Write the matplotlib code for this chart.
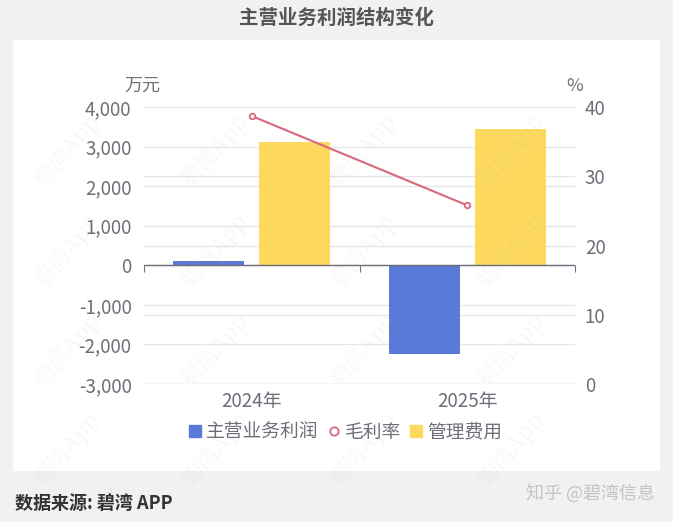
import matplotlib
matplotlib.use("Agg")
import matplotlib.pyplot as plt
from matplotlib.lines import Line2D
from matplotlib.patches import Rectangle
from matplotlib.transforms import blended_transform_factory
import numpy as np

plt.rcParams['font.family'] = ['Noto Sans CJK SC', 'DejaVu Sans']

# data
years = ["2024年", "2025年"]
profit = [100, -2250]          # 主营业务利润, 万元
admin_cost = [3110, 3450]      # 管理费用, 万元
gross_margin = [38.7, 25.8]    # 毛利率, %
left_ticks = [-3000, -2000, -1000, 0, 1000, 2000, 3000, 4000]
right_ticks = [0, 10, 20, 30, 40]

blue = "#5b79d6"
yellow = "#fdd95f"
red = "#d9677a"
grid_c = "#e3e6ee"
txt_c = "#6e7079"

fig = plt.figure(figsize=(6.73, 5.22), dpi=100)
fig.patch.set_facecolor("#f1f1f1")
fig.patches.append(Rectangle((13 / 673, 1 - 471 / 522), 647 / 673, 431 / 522,
                             transform=fig.transFigure, facecolor="white",
                             edgecolor="none", zorder=-5))

ax = fig.add_axes([144 / 673, 1 - 384 / 522, 431 / 673, 277 / 522])
ax.set_facecolor("none")
x = np.arange(len(years))
w = 0.33
ax.bar(x - 0.2, profit, w, color=blue, zorder=3)
ax.bar(x + 0.2, admin_cost, w, color=yellow, zorder=3)
ax.set_xlim(-0.5, len(years) - 0.5)
ax.set_ylim(left_ticks[0], left_ticks[-1])
ax.set_yticks(left_ticks)
ax.set_yticklabels([f"{v:,}" for v in left_ticks])
ax.set_xticks(x)
ax.set_xticklabels(years)
ax.tick_params(axis="y", length=0, pad=9, labelsize=13.5, labelcolor=txt_c)
ax.tick_params(axis="x", length=0, pad=5, labelsize=13.5, labelcolor=txt_c)
ax.grid(axis="y", color=grid_c, linewidth=1, zorder=0)
for s in ax.spines.values():
    s.set_visible(False)
ax.axhline(0, color=txt_c, linewidth=1, zorder=4)

# tick marks on zero line at category boundaries
zero_loc = (0 - left_ticks[0]) / (left_ticks[-1] - left_ticks[0])
sec = ax.secondary_xaxis(zero_loc)
sec.set_xticks(np.arange(len(years) + 1) - 0.5)
sec.set_xticklabels([])
sec.tick_params(axis="x", direction="out", length=5, color=txt_c)
sec.spines["bottom"].set_visible(False)

ax2 = ax.twinx()
ax2.plot(x, gross_margin, color=red, linewidth=1.5, marker="o", markersize=4,
         markerfacecolor="white", markeredgewidth=1.3, zorder=5)
ax2.set_ylim(right_ticks[0], right_ticks[-1])
ax2.set_yticks(right_ticks)
ax2.tick_params(axis="y", length=0, pad=7, labelsize=13.5, labelcolor=txt_c)
for s in ax2.spines.values():
    s.set_visible(False)

# right-axis grid drawn on the bar axes so it stays behind the bars
tr = blended_transform_factory(ax.transAxes, ax2.transData)
for t in right_ticks:
    ax.plot([0, 1], [t, t], transform=tr, color=grid_c, linewidth=1, zorder=0)

fig.text(142 / 673, 1 - 86 / 522, "万元", ha="center", va="center", fontsize=13, color=txt_c)
fig.text(575 / 673, 1 - 86 / 522, "%", ha="center", va="center", fontsize=13, color=txt_c)

fig.text(0.5, 1 - 18 / 522, "主营业务利润结构变化", ha="center", va="center",
         fontsize=14, fontweight="bold", color="#555555")

handles = [
    Line2D([], [], linestyle="none", marker="s", markersize=8, color=blue),
    Line2D([], [], linestyle="none", marker="o", markersize=6, markerfacecolor="white",
           markeredgecolor=red, markeredgewidth=1.3),
    Line2D([], [], linestyle="none", marker="s", markersize=8, color=yellow),
]
fig.legend(handles, ["主营业务利润", "毛利率", "管理费用"], loc="center",
           bbox_to_anchor=(344 / 673, 1 - 432 / 522), ncol=3, frameon=False,
           fontsize=13.5, labelcolor=txt_c, handletextpad=0.1, columnspacing=0.3,
           handlelength=1.0, borderaxespad=0)

fig.text(15 / 673, 1 - 503 / 522, "数据来源: 碧湾 APP", ha="left", va="center",
         fontsize=13, fontweight="bold", color="#333333")
fig.text(655 / 673, 1 - 493 / 522, "知乎 @碧湾信息", ha="right", va="center",
         fontsize=13, color="#c4c4c4")

# faint watermark
for wx in np.arange(0.1, 0.95, 0.22):
    for wy in np.arange(0.14, 0.9, 0.19):
        fig.text(wx, wy, "碧湾App", rotation=50, ha="center", va="center",
                 fontsize=16, family=["Noto Serif CJK SC", "Noto Sans CJK SC"],
                 color="#9a9a9a", alpha=0.08, zorder=10)

fig.savefig("out.png", dpi=100, facecolor=fig.get_facecolor())
